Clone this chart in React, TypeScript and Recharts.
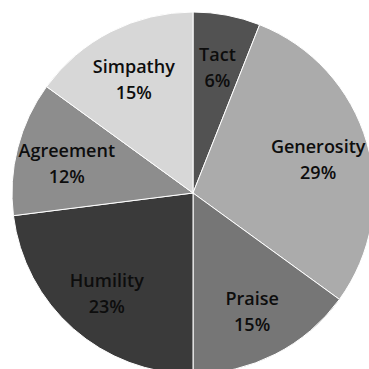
import { PieChart, Pie, Cell } from "recharts";

const NAMES = ["Tact", "Generosity", "Praise", "Humility", "Agreement", "Simpathy"];
const VALUES = [6, 29, 15, 23, 12, 15];
const COLORS = ["#525252", "#ababab", "#767676", "#3a3a3a", "#8d8d8d", "#d7d7d7"];

const data = NAMES.map((name, i) => ({ name, value: VALUES[i] }));

const RADIAN = Math.PI / 180;

const renderLabel = (props: any) => {
    const { cx, cy, midAngle, outerRadius, name, value } = props;
    const r = outerRadius * 0.72;
    const x = cx + r * Math.cos(-midAngle * RADIAN);
    const y = cy + r * Math.sin(-midAngle * RADIAN);
    return (
        <text x={x} y={y} textAnchor="middle" fill="#0d0d0d" fontSize={18} fontWeight={600} fontFamily="'Open Sans', sans-serif">
            <tspan x={x} dy={-4}>{name}</tspan>
            <tspan x={x} dy={26}>{`${value}%`}</tspan>
        </text>
    );
};

export default function App() {
    return (
        <div style={{ position: "fixed", top: 0, left: 0, width: 369, height: 369, overflow: "hidden", background: "#fff" }}>
            <PieChart width={369} height={369} margin={{ top: 0, right: 0, bottom: 0, left: 0 }}>
                <Pie
                    data={data}
                    dataKey="value"
                    nameKey="name"
                    cx={193}
                    cy={193}
                    outerRadius={181}
                    startAngle={90}
                    endAngle={-270}
                    stroke="#ffffff"
                    strokeWidth={1}
                    label={renderLabel}
                    labelLine={false}
                    isAnimationActive={false}
                >
                    {data.map((d, i) => (
                        <Cell key={d.name} fill={COLORS[i]} />
                    ))}
                </Pie>
            </PieChart>
        </div>
    );
}
